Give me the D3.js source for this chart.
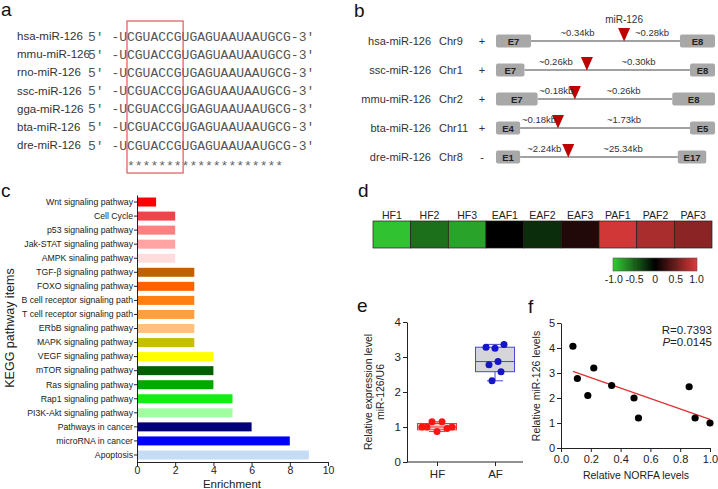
<!DOCTYPE html>
<html>
<head>
<meta charset="utf-8">
<script src="https://cdn.jsdelivr.net/npm/d3@7/dist/d3.min.js"></script>
<style>
body{margin:0;background:#fff;}
svg{display:block;font-family:"Liberation Sans",Arial,sans-serif;}
</style>
</head>
<body>
<svg id="fig" width="718" height="489"></svg>
<script>
'use strict';
/*
 *	Data
 */
// a - alignment
var aSpecies = ["hsa-miR-126","mmu-miR-126","rno-miR-126","ssc-miR-126","gga-miR-126","bta-miR-126","dre-miR-126"];
var aSeq = "5' -UCGUACCGUGAGUAAUAAUGCG-3'";
var aStars = "     ********************";
var aSeed = [5, 12]; // seed columns (start, end)

// b - genomic location
var bNames = ["hsa-miR-126","ssc-miR-126","mmu-miR-126","bta-miR-126","dre-miR-126"];
var bChr = ["Chr9","Chr1","Chr2","Chr11","Chr8"];
var bStrand = ["+","+","+","+","-"];
var bExonL = ["E7","E7","E7","E4","E1"];
var bExonR = ["E8","E8","E8","E5","E17"];
var bLenL = ["~0.34kb","~0.26kb","~0.18kb","~0.18kb","~2.24kb"];
var bLenR = ["~0.28kb","~0.30kb","~0.26kb","~1.73kb","~25.34kb"];
// relative track positions: end of left exon, miR, start of right exon, end of track
var bExonLEnd = [0.16,0.13,0.19,0.11,0.11];
var bMir = [0.585,0.415,0.36,0.283,0.33];
var bExonRStart = [0.84,0.886,0.805,0.886,0.83];
var bEnd = [1,1,1,1,0.96];

// c - KEGG
var cTerms = ["Wnt signaling pathway","Cell Cycle","p53 signaling pathway","Jak-STAT signaling pathway",
  "AMPK sinaling pathway","TGF-\u03b2 signaling pathway","FOXO signaling pathway","B cell receptor signaling path",
  "T cell receptor signaling path","ERbB signaling pathway","MAPK signaling pathway","VEGF signaling pathway",
  "mTOR signaling pathway","Ras signaling pathway","Rap1 signaling pathway","PI3K-Akt signaling pathway",
  "Pathways in cancer ","microRNA in cancer ","Apoptosis"];
var cValues = [1,2,2,2,2,3,3,3,3,3,3,4,4,4,5,5,6,8,9];
var cColors = ["#ff0000","#f2434b","#ff8080","#ffa3a3","#ffdcdc","#c06000","#ff6000","#ff8010","#ffa040",
  "#ffc080","#c4c000","#ffff00","#006000","#00a800","#10f010","#a0ffa0","#000078","#0000ff","#c6dcf5"];

// d - heatmap
var dLabels = ["HF1","HF2","HF3","EAF1","EAF2","EAF3","PAF1","PAF2","PAF3"];
var dValues = [-0.95,-0.55,-0.8,0.0,-0.22,0.15,0.95,0.77,0.63];
var dTicks = [-1,-0.5,0,0.5,1];
var dTickLabels = ["-1.0","-0.5","0","0.5","1.0"];

// e - expression
var eGroups = ["HF","AF"];
var eHF = [1.0,1.0,1.15,0.87,1.15,0.96,1.0];
var eAF = [3.28,2.78,2.32,3.25,2.87,2.58,3.36];
var eHFBox = [0.87,0.92,1.0,1.1,1.15];   // min, q1, median, q3, max
var eAFBox = [2.32,2.58,2.87,3.28,3.36];

// f - correlation
var fNorfa = [0.08,0.11,0.18,0.22,0.34,0.49,0.52,0.86,0.9,1.0];
var fMir = [4.07,2.78,2.1,3.2,2.5,2.0,1.2,2.45,1.2,1.0];

var svg = d3.select("#fig");
svg.append("rect").attr("width",718).attr("height",489).attr("fill","#fff");

function panelLabel(t,x,y){
	svg.append("text").attr("x",x).attr("y",y).attr("font-size",19).attr("fill","#111").text(t);
}
function styleAxis(g){
	g.selectAll("path,line").attr("stroke","#222").attr("stroke-width",1);
	g.selectAll("text").attr("fill","#222").attr("font-family","'Liberation Sans',Arial,sans-serif");
}

/*
 *	a
 */
panelLabel("a",1,16);
var aY = d3.scalePoint().domain(aSpecies).range([36,145]);
var pitch = 7.8, seqX = 88;
var gA = svg.append("g");
gA.selectAll("text.nm").data(aSpecies).enter().append("text")
	.attr("x",17).attr("y",function(d){return aY(d)+4;})
	.attr("font-size",11.5).attr("fill","#333").text(function(d){return d;});
gA.selectAll("text.sq").data(aSpecies).enter().append("text")
	.attr("x",seqX).attr("y",function(d){return aY(d)+4.5;})
	.attr("font-family","'Liberation Mono',monospace").attr("font-size",13).attr("fill","#555")
	.style("white-space","pre").text(aSeq);
gA.append("text").attr("x",seqX).attr("y",170)
	.attr("font-family","'Liberation Mono',monospace").attr("font-size",13).attr("fill","#666")
	.style("white-space","pre").text(aStars);
gA.append("rect").attr("x",seqX+aSeed[0]*pitch).attr("y",21)
	.attr("width",(aSeed[1]-aSeed[0])*pitch+1.5).attr("height",152)
	.attr("fill","none").attr("stroke","#e04848").attr("stroke-width",1.1);

/*
 *	b
 */
panelLabel("b",354,17);
var bY = d3.scalePoint().domain(bNames).range([41,157]);
var bX = d3.scaleLinear().domain([0,1]).range([496,715]);
var gB = svg.append("g").attr("font-size",11).attr("fill","#333");
bNames.forEach(function(n,i){
	var y = bY(n);
	gB.append("text").attr("x",431).attr("y",y+4).attr("text-anchor","end").text(n);
	gB.append("text").attr("x",439).attr("y",y+4).text(bChr[i]);
	gB.append("text").attr("x",482).attr("y",y+4).attr("text-anchor","middle").text(bStrand[i]);
	gB.append("line").attr("x1",bX(bExonLEnd[i])).attr("x2",bX(bExonRStart[i]))
		.attr("y1",y).attr("y2",y).attr("stroke","#444").attr("stroke-width",1.2);
	var ex = [[0,bExonLEnd[i],bExonL[i]],[bExonRStart[i],bEnd[i],bExonR[i]]];
	ex.forEach(function(e){
		gB.append("rect").attr("x",bX(e[0])).attr("y",y-6.5).attr("width",bX(e[1])-bX(e[0])).attr("height",13)
			.attr("rx",2).attr("fill","#a8a8a8");
		gB.append("text").attr("x",(bX(e[0])+bX(e[1]))/2).attr("y",y+3.5).attr("text-anchor","middle")
			.attr("font-size",9.5).attr("font-weight","bold").attr("fill","#222").text(e[2]);
	});
	var mx = bX(bMir[i]);
	gB.append("path").attr("d","M"+(mx-6)+","+(y-13)+"L"+(mx+6)+","+(y-13)+"L"+mx+","+(y+0.5)+"Z")
		.attr("fill","#c00000");
	gB.append("text").attr("x",(bX(bExonLEnd[i])+mx)/2).attr("y",y-5).attr("text-anchor","middle")
		.attr("font-size",9.5).attr("fill","#333").text(bLenL[i]);
	gB.append("text").attr("x",(mx+bX(bExonRStart[i]))/2).attr("y",y-5).attr("text-anchor","middle")
		.attr("font-size",9.5).attr("fill","#333").text(bLenR[i]);
	if(i===0){
		gB.append("text").attr("x",mx).attr("y",23).attr("text-anchor","middle")
			.attr("font-size",10).attr("fill","#333").text("miR-126");
	}
});

/*
 *	c
 */
panelLabel("c",1,197);
var cX = d3.scaleLinear().domain([0,10]).range([137,328]);
var cY = d3.scaleBand().domain(cTerms).range([195,462]).paddingInner(0.36).paddingOuter(0.18);
var gC = svg.append("g");
gC.selectAll("rect").data(cTerms).enter().append("rect")
	.attr("x",cX(0)).attr("y",function(d){return cY(d);})
	.attr("width",function(d,i){return cX(cValues[i])-cX(0);})
	.attr("height",cY.bandwidth())
	.attr("fill",function(d,i){return cColors[i];});
var cAxY = gC.append("g").attr("transform","translate(137,0)")
	.call(d3.axisLeft(cY).tickSize(3).tickSizeOuter(0).tickPadding(1));
cAxY.selectAll("text").attr("font-size",8.7);
styleAxis(cAxY);
var cAxX = gC.append("g").attr("transform","translate(0,462)")
	.call(d3.axisBottom(cX).tickValues([0,2,4,6,8,10]).tickSize(4).tickSizeOuter(0).tickPadding(1));
cAxX.selectAll("text").attr("font-size",10.5);
styleAxis(cAxX);
gC.append("text").attr("transform","translate(14,328) rotate(-90)").attr("text-anchor","middle")
	.attr("font-size",12.5).attr("fill","#222").text("KEGG pathway items");
gC.append("text").attr("x",232).attr("y",487.5).attr("text-anchor","middle")
	.attr("font-size",11.5).attr("fill","#222").text("Enrichment");

/*
 *	d
 */
panelLabel("d",358,197);
var dColor = d3.scaleLinear().domain([-1,0,1]).range(["#33cc33","#000000","#dc3a3a"]);
var dX = d3.scaleBand().domain(dLabels).range([373,712]);
var gD = svg.append("g");
gD.selectAll("rect").data(dLabels).enter().append("rect")
	.attr("x",function(d){return dX(d);}).attr("y",221)
	.attr("width",dX.bandwidth()).attr("height",27)
	.attr("fill",function(d,i){return dColor(dValues[i]);})
	.attr("stroke","#2a1a1a").attr("stroke-width",0.7);
gD.selectAll("text").data(dLabels).enter().append("text")
	.attr("x",function(d){return dX(d)+dX.bandwidth()/2;}).attr("y",218.5)
	.attr("text-anchor","middle").attr("font-size",10.5).attr("fill","#222")
	.text(function(d){return d;});
var lgX = d3.scaleLinear().domain([-1,1]).range([613,697]);
var grad = svg.append("defs").append("linearGradient").attr("id","lg");
dTicks.forEach(function(t){
	grad.append("stop").attr("offset",((t+1)/2*100)+"%").attr("stop-color",dColor(t));
});
gD.append("rect").attr("x",lgX(-1)).attr("y",258).attr("width",lgX(1)-lgX(-1)).attr("height",13)
	.attr("fill","url(#lg)").attr("stroke","#555").attr("stroke-width",0.6);
gD.selectAll("line.lg").data([-0.5,0.5]).enter().append("line")
	.attr("x1",function(d){return lgX(d);}).attr("x2",function(d){return lgX(d);})
	.attr("y1",258).attr("y2",271).attr("stroke","#333").attr("stroke-width",0.5).attr("opacity",0.6);
gD.selectAll("text.lgt").data(dTicks).enter().append("text")
	.attr("x",function(d){return lgX(d)*0.985+10;}).attr("y",283)
	.attr("text-anchor","middle").attr("font-size",10.5).attr("fill","#222")
	.text(function(d,i){return dTickLabels[i];});

/*
 *	e
 */
panelLabel("e",357,312);
var eX = d3.scalePoint().domain(eGroups).range([437,495]);
var eY = d3.scaleLinear().domain([0,4]).range([462,322]);
var gE = svg.append("g");
var eAxY = gE.append("g").attr("transform","translate(407,0)")
	.call(d3.axisLeft(eY).ticks(4).tickSize(4).tickSizeOuter(0).tickPadding(2));
eAxY.selectAll("text").attr("font-size",11.5);
styleAxis(eAxY);
var eAxX = gE.append("g").attr("transform","translate(0,462)")
	.call(d3.axisBottom(eX).tickSize(4).tickSizeOuter(0).tickPadding(4));
eAxX.select(".domain").attr("d","M407,0H523");
eAxX.selectAll("text").attr("font-size",11.5);
styleAxis(eAxX);
var eSets = [
	{g:"HF",vals:eHF,box:eHFBox,spread:15,fill:"#f8c4c4",stroke:"#e83a3a",pt:"#ff1414"},
	{g:"AF",vals:eAF,box:eAFBox,spread:9,fill:"#d6d6da",stroke:"#4848d0",pt:"#1414c8"}
];
eSets.forEach(function(s){
	var cx = eX(s.g), hw = 19.5;
	gE.append("line").attr("x1",cx).attr("x2",cx).attr("y1",eY(s.box[0])).attr("y2",eY(s.box[4]))
		.attr("stroke",s.stroke).attr("stroke-width",1);
	gE.selectAll(null).data([s.box[0],s.box[4]]).enter().append("line")
		.attr("x1",cx-8).attr("x2",cx+8).attr("y1",function(d){return eY(d);}).attr("y2",function(d){return eY(d);})
		.attr("stroke",s.stroke).attr("stroke-width",1);
	gE.append("rect").attr("x",cx-hw).attr("y",eY(s.box[3])).attr("width",hw*2)
		.attr("height",eY(s.box[1])-eY(s.box[3])).attr("fill",s.fill).attr("stroke",s.stroke).attr("stroke-width",1);
	gE.append("line").attr("x1",cx-hw).attr("x2",cx+hw).attr("y1",eY(s.box[2])).attr("y2",eY(s.box[2]))
		.attr("stroke",s.stroke).attr("stroke-width",1);
	var jx = d3.scalePoint().domain(d3.range(s.vals.length)).range([-s.spread,s.spread]);
	gE.selectAll(null).data(s.vals).enter().append("circle")
		.attr("cx",function(d,i){return cx+jx(i);}).attr("cy",function(d){return eY(d);})
		.attr("r",3.5).attr("fill",s.pt);
});
gE.append("text").attr("transform","translate(372,392) rotate(-90)").attr("text-anchor","middle")
	.attr("font-size",10.5).attr("fill","#222").text("Relative expression level");
gE.append("text").attr("transform","translate(384,392) rotate(-90)").attr("text-anchor","middle")
	.attr("font-size",10.5).attr("fill","#222").text("miR-126/U6");

/*
 *	f
 */
panelLabel("f",528,313);
var fX = d3.scaleLinear().domain([0,1]).range([561,710]);
var fY = d3.scaleLinear().domain([0,5]).range([448,323]);
var gF = svg.append("g");
var fAxY = gF.append("g").attr("transform","translate(561,0)")
	.call(d3.axisLeft(fY).ticks(5).tickSize(4).tickSizeOuter(0).tickPadding(2));
fAxY.selectAll("text").attr("font-size",11);
styleAxis(fAxY);
var fAxX = gF.append("g").attr("transform","translate(0,448)")
	.call(d3.axisBottom(fX).ticks(5).tickFormat(d3.format(".1f")).tickSize(4).tickSizeOuter(0).tickPadding(3));
fAxX.selectAll("text").attr("font-size",11);
styleAxis(fAxX);
// least squares fit
var mx = d3.mean(fNorfa), my = d3.mean(fMir);
var sxy = d3.sum(fNorfa, function(x,i){return (x-mx)*(fMir[i]-my);});
var sxx = d3.sum(fNorfa, function(x){return (x-mx)*(x-mx);});
var slope = sxy/sxx, icpt = my - slope*mx;
var xe = d3.extent(fNorfa);
gF.append("line").attr("x1",fX(xe[0])).attr("x2",fX(xe[1]))
	.attr("y1",fY(icpt+slope*xe[0])).attr("y2",fY(icpt+slope*xe[1]))
	.attr("stroke","#e03030").attr("stroke-width",1.2);
gF.selectAll("circle").data(fNorfa).enter().append("circle")
	.attr("cx",function(d){return fX(d);}).attr("cy",function(d,i){return fY(fMir[i]);})
	.attr("r",3.6).attr("fill","#000");
gF.append("text").attr("x",712).attr("y",334).attr("text-anchor","end")
	.attr("font-size",11.5).attr("fill","#222").text("R=0.7393");
var pt = gF.append("text").attr("x",712).attr("y",346).attr("text-anchor","end")
	.attr("font-size",11.5).attr("fill","#222");
pt.append("tspan").attr("font-style","italic").text("P");
pt.append("tspan").text("=0.0145");
gF.append("text").attr("transform","translate(540,386) rotate(-90)").attr("text-anchor","middle")
	.attr("font-size",10.5).attr("fill","#222").text("Relative miR-126 levels");
gF.append("text").attr("x",636).attr("y",479).attr("text-anchor","middle")
	.attr("font-size",10.5).attr("fill","#222").text("Relative NORFA levels");
</script>
</body>
</html>
